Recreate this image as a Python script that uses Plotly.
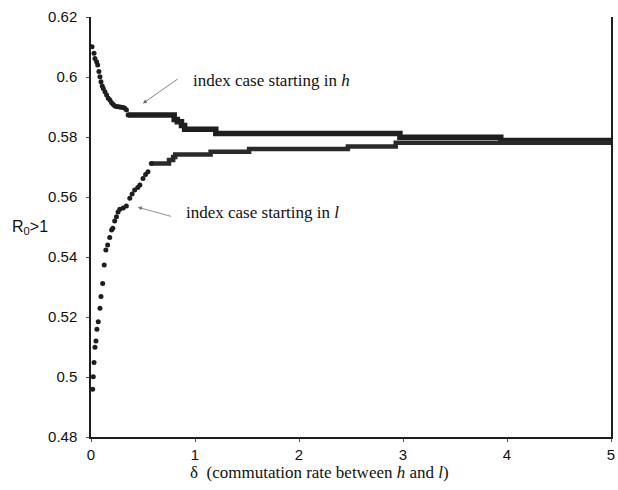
import plotly.graph_objects as go

# ---- data ----
# index case starting in h: early curved part (individual dots)
h_dot_x = [0.010, 0.029, 0.038, 0.054, 0.064, 0.076, 0.086, 0.096, 0.108, 0.118,
           0.134, 0.150, 0.166, 0.182, 0.198, 0.214, 0.229, 0.245, 0.261, 0.277,
           0.293, 0.309, 0.325, 0.341, 0.357]
h_dot_y = [0.6101, 0.6079, 0.6062, 0.6051, 0.6040, 0.6018, 0.6001, 0.5984, 0.5970, 0.5962,
           0.5951, 0.5940, 0.5929, 0.5923, 0.5914, 0.5908, 0.5903, 0.5902, 0.5901, 0.5900,
           0.5899, 0.5898, 0.5896, 0.5890, 0.5873]
# staircase part (level starts)
h_step_x = [0.357, 0.80, 0.83, 0.87, 0.90, 1.20, 2.97, 3.94, 5.00]
h_step_y = [0.5873, 0.5858, 0.5851, 0.5838, 0.5826, 0.5812, 0.5799, 0.5788, 0.5788]

# index case starting in l
l_dot_x = [0.016, 0.022, 0.029, 0.038, 0.048, 0.057, 0.070, 0.086, 0.096, 0.112,
           0.127, 0.143, 0.160, 0.180, 0.198, 0.210, 0.228, 0.245, 0.260, 0.277,
           0.310, 0.340, 0.373, 0.395, 0.420, 0.450, 0.470, 0.500, 0.525, 0.548,
           0.580]
l_dot_y = [0.4959, 0.5001, 0.5048, 0.5099, 0.5120, 0.5159, 0.5184, 0.5229, 0.5268, 0.5312,
           0.5373, 0.5423, 0.5440, 0.5465, 0.5490, 0.5496, 0.5520, 0.5534, 0.5550, 0.5559,
           0.5563, 0.5570, 0.5596, 0.5610, 0.5623, 0.5632, 0.5640, 0.5662, 0.5675, 0.5684,
           0.5712]
l_step_x = [0.58, 0.75, 0.79, 0.81, 1.15, 1.52, 2.47, 2.93, 5.00]
l_step_y = [0.5712, 0.5723, 0.5733, 0.5742, 0.5751, 0.5760, 0.5768, 0.5781, 0.5781]

y_ticks = [0.48, 0.50, 0.52, 0.54, 0.56, 0.58, 0.60, 0.62]
y_tick_labels = ["0.48", "0.5", "0.52", "0.54", "0.56", "0.58", "0.6", "0.62"]
x_ticks = [0, 1, 2, 3, 4, 5]
x_tick_labels = ["0", "1", "2", "3", "4", "5"]

INK = "#1e1e1e"

fig = go.Figure()
fig.add_trace(go.Scatter(x=h_step_x, y=h_step_y, mode="lines", line_shape="hv",
                         line=dict(color=INK, width=5.5), showlegend=False))
fig.add_trace(go.Scatter(x=h_dot_x, y=h_dot_y, mode="markers",
                         marker=dict(color=INK, size=5), showlegend=False))
fig.add_trace(go.Scatter(x=l_step_x, y=l_step_y, mode="lines", line_shape="hv",
                         line=dict(color="#2a2a2a", width=4.5), showlegend=False))
fig.add_trace(go.Scatter(x=l_dot_x, y=l_dot_y, mode="markers",
                         marker=dict(color=INK, size=5), showlegend=False))

serif = "Liberation Serif"
sans = "Liberation Sans"

annotations = [
    # arrows
    dict(x=0.499, y=0.5912, ax=0.849, ay=0.5997, xref="x", yref="y", axref="x", ayref="y",
         text="", showarrow=True, arrowhead=2, arrowsize=1, arrowwidth=0.8, arrowcolor="#666"),
    dict(x=0.451, y=0.5566, ax=0.785, ay=0.5534, xref="x", yref="y", axref="x", ayref="y",
         text="", showarrow=True, arrowhead=2, arrowsize=1, arrowwidth=0.8, arrowcolor="#777"),
    # labels
    dict(x=0.958, y=0.5990, xref="x", yref="y", xanchor="left", yanchor="middle",
         text="index case starting in <i>h</i>", showarrow=False,
         font=dict(family=serif, size=17, color="#111")),
    dict(x=0.893, y=0.5547, xref="x", yref="y", xanchor="left", yanchor="middle",
         text="index case starting in <i>l</i>", showarrow=False,
         font=dict(family=serif, size=17, color="#111")),
    # axis titles
    dict(x=0.439, y=-0.085, xref="paper", yref="paper", xanchor="center", yanchor="middle",
         text="\u03b4  (commutation rate between <i>h</i> and <i>l</i>)", showarrow=False,
         font=dict(family=serif, size=17, color="#111")),
    dict(x=-0.117, y=0.50, xref="paper", yref="paper", xanchor="center", yanchor="middle",
         text="R<sub>0</sub>>1", showarrow=False,
         font=dict(family=sans, size=16, color="#111")),
]

fig.update_layout(
    width=618, height=490,
    margin=dict(l=91, r=3, t=17, b=53),
    paper_bgcolor="white", plot_bgcolor="white",
    annotations=annotations,
    xaxis=dict(range=[0, 5], tickvals=x_ticks, ticktext=x_tick_labels,
               showgrid=False, zeroline=False, showline=True, linecolor=INK, linewidth=1.5,
               ticks="outside", ticklen=3, tickcolor="#555", tickwidth=1,
               tickfont=dict(family=sans, size=15, color="#111")),
    yaxis=dict(range=[0.48, 0.62], tickvals=y_ticks, ticktext=y_tick_labels,
               showgrid=False, zeroline=False, showline=True, linecolor=INK, linewidth=1.5,
               mirror=True, ticks="outside", ticklen=3, tickcolor="#555", tickwidth=1,
               ticklabelstandoff=6,
               tickfont=dict(family=sans, size=15, color="#111")),
)

fig.write_html("out.html")
